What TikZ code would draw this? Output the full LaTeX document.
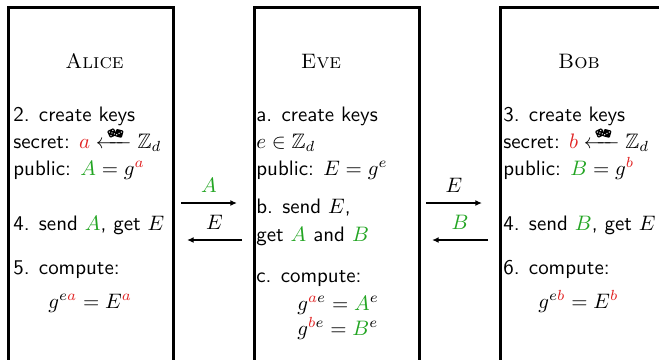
\documentclass[tikz,border=0pt]{standalone}
\usepackage{amsmath,amssymb}
\usetikzlibrary{arrows.meta}
\definecolor{keyred}{RGB}{225,35,35}
\definecolor{keygreen}{RGB}{35,165,35}
\newcommand\sk[1]{\textcolor{keyred}{#1}}
\newcommand\pk[1]{\textcolor{keygreen}{#1}}
\newcommand\dicepair{\tikz[x=1pt,y=1pt,baseline={(0,-1.6)}]{%
  \begin{scope}[rotate=25]
    \fill[black,rounded corners=0.5pt] (-1.8,-1.8) rectangle (1.8,1.8);
    \foreach \q in {(-0.9,-0.9),(0.9,0.9),(-0.9,0.9),(0.9,-0.9),(0,0)} \fill[white] \q circle (0.35);
  \end{scope}
  \begin{scope}[shift={(3.4,-0.2)},rotate=-15]
    \fill[black,rounded corners=0.5pt] (-1.8,-1.8) rectangle (1.8,1.8);
    \foreach \q in {(-0.9,-0.9),(0.9,0.9),(0,0)} \fill[white] \q circle (0.35);
  \end{scope}}}
\begin{document}
\begin{tikzpicture}[x=0.478pt,y=-0.478pt,
  party/.style={draw,line width=1.3pt,inner sep=0pt,anchor=north west,minimum width=78.9pt,minimum height=190pt},
  title/.style={font=\normalfont\rmfamily,anchor=base,inner sep=0pt},
  txt/.style={font=\sffamily,anchor=base west,inner sep=0pt},
  msg/.style={line width=0.9pt,-{Latex[length=3.2pt,width=2.8pt]}},
  lbl/.style={midway,anchor=base,inner sep=0pt,yshift=4.8pt}]
\useasboundingbox (0,0) rectangle (659,359);
\clip (0,0) rectangle (659,359);
% party boxes
\node[party] (alicebox) at (7,6) {};
\node[party] (evebox) at (253,6) {};
\node[party] (bobbox) at (499,6) {};
% Alice
\node[title] (atitle) at (94.5,68) {\textsc{Alice}};
\node[txt] (a1) at (13,121) {2. create keys};
\node[txt] (a2) at (13,148) {secret: $\sk{a} \xleftarrow{\,\dicepair\,} \mathbb{Z}_d$};
\node[txt] (a3) at (13,175) {public: $\pk{A} = g^{\sk{a}}$};
\node[txt] (a4) at (13,230) {4. send $\pk{A}$, get $E$};
\node[txt] (a5) at (13,274) {5. compute:};
\node[txt] (a6) at (48,308) {$g^{e\sk{a}} = E^{\sk{a}}$};
% Eve
\node[title] (etitle) at (321,68) {\textsc{Eve}};
\node[txt] (e1) at (256,121) {a. create keys};
\node[txt] (e2) at (256,148) {$e \in \mathbb{Z}_d$};
\node[txt] (e3) at (256,175) {public: $E = g^e$};
\node[txt] (e4) at (256,213) {b. send $E$,};
\node[txt] (e5) at (256,241) {get $\pk{A}$ and $\pk{B}$};
\node[txt] (e6) at (256,282) {c. compute:};
\node[txt] (e7) at (297,310) {$g^{\sk{a}e} = \pk{A}^e$};
\node[txt] (e8) at (297,335) {$g^{\sk{b}e} = \pk{B}^e$};
% Bob
\node[title] (btitle) at (579,68) {\textsc{Bob}};
\node[txt] (b1) at (503,121) {3. create keys};
\node[txt] (b2) at (503,148) {secret: $\sk{b} \xleftarrow{\,\dicepair\,} \mathbb{Z}_d$};
\node[txt] (b3) at (503,175) {public: $\pk{B} = g^{\sk{b}}$};
\node[txt] (b4) at (503,230) {4. send $\pk{B}$, get $E$};
\node[txt] (b5) at (503,274) {6. compute:};
\node[txt] (b6) at (538,308) {$g^{e\sk{b}} = E^{\sk{b}}$};
% messages
\coordinate (m1s) at (181,203);
\coordinate (m1e) at (237,203);
\coordinate (m2s) at (242,240);
\coordinate (m2e) at (187,240);
\coordinate (m3s) at (426,203);
\coordinate (m3e) at (482,203);
\coordinate (m4s) at (488,240);
\coordinate (m4e) at (432,240);
\draw[msg] (m1s) -- (m1e) node[lbl] (l1) {$\pk{A}$};
\draw[msg] (m2s) -- (m2e) node[lbl] (l2) {$E$};
\draw[msg] (m3s) -- (m3e) node[lbl] (l3) {$E$};
\draw[msg] (m4s) -- (m4e) node[lbl] (l4) {$\pk{B}$};
\end{tikzpicture}
\end{document}
